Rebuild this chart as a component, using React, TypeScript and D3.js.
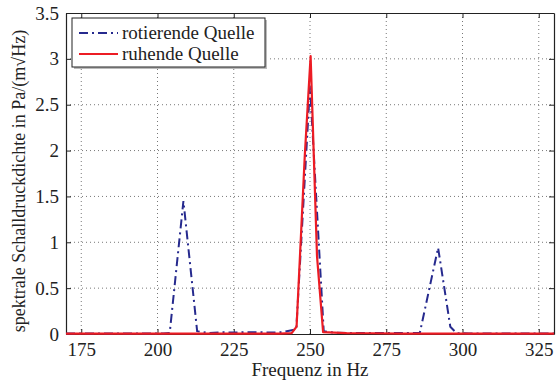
import React, { useEffect, useRef } from 'react';
import * as d3 from 'd3';

const xTicks = [175, 200, 225, 250, 275, 300, 325];
const yTicks = [0, 0.5, 1, 1.5, 2, 2.5, 3, 3.5];

// rotierende Quelle
const rotFreq = [170, 174, 178, 182, 186, 190, 194, 198, 202, 204, 208.5, 213, 217, 221, 225, 229, 233, 237, 241, 245.5, 250, 254.5, 258, 262, 266, 270, 274, 278, 282, 286, 292, 296, 298, 302, 306, 310, 314, 318, 322, 326, 330];
const rotVal = [0.005, 0.005, 0.005, 0.005, 0.005, 0.005, 0.005, 0.005, 0.005, 0.01, 1.45, 0.03, 0.01, 0.02, 0.015, 0.02, 0.02, 0.015, 0.02, 0.05, 2.7, 0.03, 0.015, 0.01, 0.01, 0.01, 0.01, 0.01, 0.01, 0.01, 0.94, 0.08, 0.01, 0.005, 0.005, 0.005, 0.005, 0.005, 0.005, 0.005, 0.005];

// ruhende Quelle
const ruhFreq = [170, 180, 190, 200, 210, 220, 230, 240, 244, 245.6, 248.3, 250.2, 252.3, 254.3, 258, 262, 270, 280, 290, 300, 310, 320, 330];
const ruhVal = [0.005, 0.005, 0.005, 0.005, 0.005, 0.005, 0.005, 0.005, 0.01, 0.08, 1.95, 3.03, 0.85, 0.02, 0.015, 0.01, 0.008, 0.005, 0.005, 0.005, 0.005, 0.005, 0.005];

const W = 560, H = 381;
const margin = { top: 13, right: 6, bottom: 47, left: 66 };
const font = 'Liberation Serif, DejaVu Serif, serif';

const App: React.FC = () => {
  const svgRef = useRef<SVGSVGElement>(null);

  useEffect(() => {
    if (!svgRef.current) return;
    const svg = d3.select(svgRef.current);
    svg.selectAll('*').remove();

    const w = W - margin.left - margin.right;
    const h = H - margin.top - margin.bottom;
    const g = svg.append('g').attr('transform', `translate(${margin.left},${margin.top})`);

    const x = d3.scaleLinear().domain([170, 330]).range([0, w]);
    const y = d3.scaleLinear().domain([0, 3.5]).range([h, 0]);

    // grid
    g.selectAll('line.gx').data(xTicks).join('line')
      .attr('x1', d => x(d)).attr('x2', d => x(d))
      .attr('y1', 0).attr('y2', h)
      .attr('stroke', '#555').attr('stroke-width', 0.8).attr('stroke-dasharray', '1,3');
    g.selectAll('line.gy').data(yTicks.slice(1, -1)).join('line')
      .attr('x1', 0).attr('x2', w)
      .attr('y1', d => y(d)).attr('y2', d => y(d))
      .attr('stroke', '#555').attr('stroke-width', 0.8).attr('stroke-dasharray', '1,3');

    // axes, inward ticks
    const fmt = (d: any) => String(d);
    g.append('g').attr('transform', `translate(0,${h})`)
      .call(d3.axisBottom(x).tickValues(xTicks).tickSizeInner(-5).tickSizeOuter(0).tickPadding(9).tickFormat(fmt));
    g.append('g')
      .call(d3.axisTop(x).tickValues(xTicks).tickSizeInner(-5).tickSizeOuter(0).tickFormat(() => ''));
    g.append('g')
      .call(d3.axisLeft(y).tickValues(yTicks).tickSizeInner(-5).tickSizeOuter(0).tickPadding(7).tickFormat(fmt));
    g.append('g').attr('transform', `translate(${w},0)`)
      .call(d3.axisRight(y).tickValues(yTicks).tickSizeInner(-5).tickSizeOuter(0).tickFormat(() => ''));
    g.selectAll('.domain').attr('stroke', '#222').attr('stroke-width', 1.2);
    g.selectAll('.tick line').attr('stroke', '#222');
    g.selectAll('g').attr('font-family', null);
    g.selectAll('.tick text').style('font-family', font).attr('font-size', 19).attr('fill', '#222');

    const line = d3.line<[number, number]>().x(d => x(d[0])).y(d => y(d[1]));

    const rot = rotFreq.map((f, i) => [f, rotVal[i]] as [number, number]);
    const ruh = ruhFreq.map((f, i) => [f, ruhVal[i]] as [number, number]);

    g.append('path').datum(rot).attr('d', line)
      .attr('fill', 'none').attr('stroke', '#262a8e').attr('stroke-width', 2)
      .attr('stroke-dasharray', '9,4,2,4');
    g.append('path').datum(ruh).attr('d', line)
      .attr('fill', 'none').attr('stroke', '#ec1c24').attr('stroke-width', 2.2)
      .attr('stroke-linejoin', 'round');

    // legend
    const lg = svg.append('g').attr('transform', 'translate(72,18)');
    lg.append('rect').attr('x', 2).attr('y', 2).attr('width', 193).attr('height', 49).attr('fill', '#bbb');
    lg.append('rect').attr('width', 193).attr('height', 49).attr('fill', 'white').attr('stroke', '#222').attr('stroke-width', 1);
    const items = [
      { label: 'rotierende Quelle', color: '#262a8e', dash: '9,4,2,4' },
      { label: 'ruhende Quelle', color: '#ec1c24', dash: null },
    ];
    items.forEach((it, i) => {
      const cy = 15 + i * 21;
      lg.append('line').attr('x1', 7).attr('x2', 46).attr('y1', cy).attr('y2', cy)
        .attr('stroke', it.color).attr('stroke-width', 2)
        .attr('stroke-dasharray', it.dash);
      lg.append('text').attr('x', 50).attr('y', cy + 6)
        .style('font-family', font).attr('font-size', 19).attr('fill', '#222')
        .text(it.label);
    });

    // axis labels
    svg.append('text').attr('x', margin.left + w / 2).attr('y', 376)
      .attr('text-anchor', 'middle').style('font-family', font).attr('font-size', 19).attr('fill', '#222')
      .text('Frequenz in Hz');
    svg.append('text')
      .attr('transform', `translate(25,181) rotate(-90)`)
      .attr('text-anchor', 'middle').style('font-family', font).attr('font-size', 18).attr('fill', '#222')
      .text('spektrale Schalldruckdichte in Pa/(m√Hz)');
  }, []);

  return (
    <svg ref={svgRef} width={W} height={H}
      style={{ position: 'absolute', left: 0, top: 0, background: 'white' }} />
  );
};

export default App;
